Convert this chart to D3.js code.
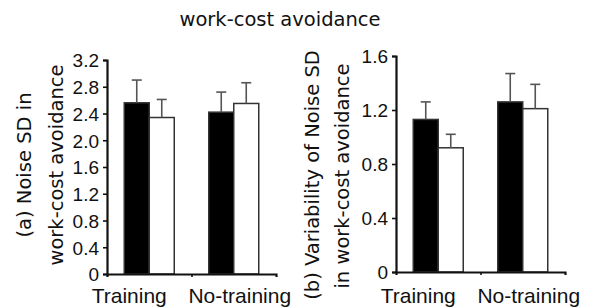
<!DOCTYPE html>
<html>
<head>
<meta charset="utf-8">
<script src="https://cdn.jsdelivr.net/npm/d3@7"></script>
<style>
body{margin:0;background:#fff}
svg{display:block}
text{font-family:"Liberation Sans",Arial,sans-serif;fill:#111}
.ttl{font-family:"DejaVu Sans",sans-serif}
</style>
</head>
<body>
<svg width="592" height="308"></svg>
<script>
// categories and series
var groups = ["Training", "No-training"]
var series = ["filled", "open"]

// (a) noise SD, means and error (upper bar only)
var noiseFilled = [2.56, 2.42]
var noiseOpen = [2.34, 2.55]
var noiseFilledErr = [0.34, 0.30]
var noiseOpenErr = [0.27, 0.31]
var noiseTicks = [0, 0.4, 0.8, 1.2, 1.6, 2.0, 2.4, 2.8, 3.2]

// (b) variability of noise SD
var varFilled = [1.13, 1.26]
var varOpen = [0.92, 1.21]
var varFilledErr = [0.13, 0.21]
var varOpenErr = [0.10, 0.18]
var varTicks = [0, 0.4, 0.8, 1.2, 1.6]

var title = "work-cost avoidance"
var titleA = ["(a) Noise SD in", "work-cost avoidance"]
var titleB = ["(b) Variability of Noise SD", "in work-cost avoidance"]

var svg = d3.select("svg")

svg.append("text")
    .attr("class", "ttl")
    .attr("x", 280).attr("y", 26)
    .attr("text-anchor", "middle")
    .style("font-size", "19.5px")
    .text(title)

var toRows = function(filled, open, fErr, oErr)
{
    var rows = []
    groups.forEach(function(g, i){
        rows.push({group:g, s:"filled", v:filled[i], e:fErr[i]})
        rows.push({group:g, s:"open", v:open[i], e:oErr[i]})
    })
    return rows
}

var drawPanel = function(box, rows, ticks, lines)
{
    var g = svg.append("g")

    var yScale = d3.scaleLinear()
        .domain([0, d3.max(ticks)])
        .range([box.bottom, box.top])

    var xScale = d3.scaleBand()
        .domain(groups)
        .range([box.left, box.right])

    var xInner = d3.scaleBand()
        .domain(series)
        .range([0, xScale.bandwidth()])
        .paddingOuter(0.69)

    // bars
    g.selectAll("rect")
        .data(rows)
        .enter()
        .append("rect")
        .attr("x", function(d){return xScale(d.group) + xInner(d.s)})
        .attr("y", function(d){return yScale(d.v)})
        .attr("width", xInner.bandwidth())
        .attr("height", function(d){return yScale(0) - yScale(d.v)})
        .attr("fill", function(d){return d.s == "filled" ? "#000" : "#fff"})
        .attr("stroke", "#333")
        .attr("stroke-width", 1.5)

    // error bars, upper half only
    var cx = function(d){return xScale(d.group) + xInner(d.s) + xInner.bandwidth()/2}
    g.selectAll("line.err")
        .data(rows)
        .enter()
        .append("line")
        .attr("class", "err")
        .attr("x1", cx).attr("x2", cx)
        .attr("y1", function(d){return yScale(d.v)})
        .attr("y2", function(d){return yScale(d.v + d.e)})
        .attr("stroke", "#555").attr("stroke-width", 1.6)
    g.selectAll("line.cap")
        .data(rows)
        .enter()
        .append("line")
        .attr("class", "cap")
        .attr("x1", function(d){return cx(d) - 5})
        .attr("x2", function(d){return cx(d) + 5})
        .attr("y1", function(d){return yScale(d.v + d.e)})
        .attr("y2", function(d){return yScale(d.v + d.e)})
        .attr("stroke", "#555").attr("stroke-width", 1.6)

    // y axis
    var yAxis = g.append("g")
        .attr("transform", "translate(" + box.left + ",0)")
        .call(d3.axisLeft(yScale)
            .tickValues(ticks)
            .tickSize(4)
            .tickSizeOuter(4)
            .tickPadding(4)
            .tickFormat(function(d){return d == 0 ? "0" : d.toFixed(1)}))
    yAxis.selectAll("text").style("font-size", "19px").attr("dy", "0.36em").attr("fill", "#111")

    // x axis: ticks at the group boundaries
    var xLine = d3.scaleLinear().domain([0, groups.length]).range([box.left, box.right])
    g.append("g")
        .attr("transform", "translate(0," + box.bottom + ")")
        .call(d3.axisBottom(xLine)
            .tickValues([1])
            .tickSize(3)
            .tickSizeOuter(3)
            .tickFormat(""))

    g.selectAll(".domain").attr("stroke", "#111").attr("stroke-width", 2.2)
    g.selectAll(".tick line").attr("stroke", "#111").attr("stroke-width", 1.6)

    var labelShift = [-20, 6]
    g.selectAll("text.xlab")
        .data(groups)
        .enter()
        .append("text")
        .attr("class", "xlab")
        .attr("x", function(d, i){return xScale(d) + xScale.bandwidth()/2 + labelShift[i]})
        .attr("y", 303)
        .attr("text-anchor", "middle")
        .style("font-size", "21px")
        .text(function(d){return d})

    // rotated y titles
    lines.forEach(function(ln){
        g.append("text")
            .attr("class", "ttl")
            .attr("transform", "translate(" + ln.x + "," + ln.y + ") rotate(-90)")
            .attr("text-anchor", "middle")
            .style("font-size", "19.5px")
            .text(ln.t)
    })
}

drawPanel({left:107, right:276, top:60, bottom:274},
    toRows(noiseFilled, noiseOpen, noiseFilledErr, noiseOpenErr), noiseTicks,
    [{t:titleA[0], x:31, y:165}, {t:titleA[1], x:63, y:165}])

drawPanel({left:396, right:565, top:56, bottom:272},
    toRows(varFilled, varOpen, varFilledErr, varOpenErr), varTicks,
    [{t:titleB[0], x:319, y:175}, {t:titleB[1], x:349, y:176}])
</script>
</body>
</html>
